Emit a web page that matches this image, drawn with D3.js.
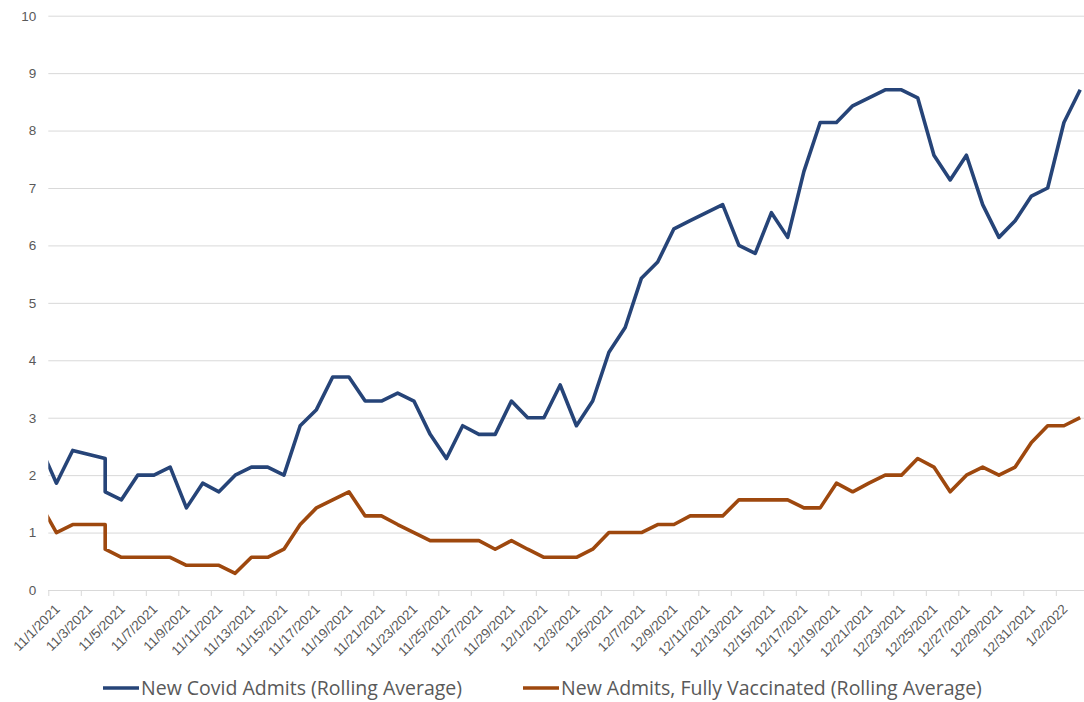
<!DOCTYPE html>
<html>
<head>
<meta charset="utf-8">
<script src="https://cdn.jsdelivr.net/npm/d3@7"></script>
<style>
  body { margin: 0; background: #ffffff; }
  svg { display: block; font-family: "Open Sans", "Noto Sans", sans-serif; }
</style>
</head>
<body>
<svg class="chart" width="1084" height="702"></svg>
<script>
// dates of the rolling averages (11/3 is missing, 11/4 is there twice)
const dates = ["10/31/2021", "11/1/2021", "11/2/2021", "11/4/2021", "11/4/2021", "11/5/2021", "11/6/2021",
  "11/7/2021", "11/8/2021", "11/9/2021", "11/10/2021", "11/11/2021", "11/12/2021", "11/13/2021",
  "11/14/2021", "11/15/2021", "11/16/2021", "11/17/2021", "11/18/2021", "11/19/2021", "11/20/2021",
  "11/21/2021", "11/22/2021", "11/23/2021", "11/24/2021", "11/25/2021", "11/26/2021", "11/27/2021",
  "11/28/2021", "11/29/2021", "11/30/2021", "12/1/2021", "12/2/2021", "12/3/2021", "12/4/2021",
  "12/5/2021", "12/6/2021", "12/7/2021", "12/8/2021", "12/9/2021", "12/10/2021", "12/11/2021",
  "12/12/2021", "12/13/2021", "12/14/2021", "12/15/2021", "12/16/2021", "12/17/2021", "12/18/2021",
  "12/19/2021", "12/20/2021", "12/21/2021", "12/22/2021", "12/23/2021", "12/24/2021", "12/25/2021",
  "12/26/2021", "12/27/2021", "12/28/2021", "12/29/2021", "12/30/2021", "12/31/2021", "1/1/2022",
  "1/2/2022", "1/3/2022"];

const covidAdmits = [2.5, 1.86, 2.43, 2.29, 1.71, 1.57, 2.0,
  2.0, 2.14, 1.43, 1.86, 1.71, 2.0, 2.14,
  2.14, 2.0, 2.86, 3.14, 3.71, 3.71, 3.29,
  3.29, 3.43, 3.29, 2.71, 2.29, 2.86, 2.71,
  2.71, 3.29, 3.0, 3.0, 3.57, 2.86, 3.29,
  4.14, 4.57, 5.43, 5.71, 6.29, 6.43, 6.57,
  6.71, 6.0, 5.86, 6.57, 6.14, 7.29, 8.14,
  8.14, 8.43, 8.57, 8.71, 8.71, 8.57, 7.57,
  7.14, 7.57, 6.71, 6.14, 6.43, 6.86, 7.0,
  8.14, 8.71];

const vaccinatedAdmits = [1.5, 1.0, 1.14, 1.14, 0.71, 0.57, 0.57,
  0.57, 0.57, 0.43, 0.43, 0.43, 0.29, 0.57,
  0.57, 0.71, 1.14, 1.43, 1.57, 1.71, 1.29,
  1.29, 1.14, 1.0, 0.86, 0.86, 0.86, 0.86,
  0.71, 0.86, 0.71, 0.57, 0.57, 0.57, 0.71,
  1.0, 1.0, 1.0, 1.14, 1.14, 1.29, 1.29,
  1.29, 1.57, 1.57, 1.57, 1.57, 1.43, 1.43,
  1.86, 1.71, 1.86, 2.0, 2.0, 2.29, 2.14,
  1.71, 2.0, 2.14, 2.0, 2.14, 2.57, 2.86,
  2.86, 3.0];

const seriesNames = ["New Covid Admits (Rolling Average)", "New Admits, Fully Vaccinated (Rolling Average)"];
const seriesColors = ["#264478", "#9e480e"];

const yTicks = [0, 1, 2, 3, 4, 5, 6, 7, 8, 9, 10];
const xTickLabels = ["11/1/2021", "11/3/2021", "11/5/2021", "11/7/2021", "11/9/2021", "11/11/2021",
  "11/13/2021", "11/15/2021", "11/17/2021", "11/19/2021", "11/21/2021", "11/23/2021", "11/25/2021",
  "11/27/2021", "11/29/2021", "12/1/2021", "12/3/2021", "12/5/2021", "12/7/2021", "12/9/2021",
  "12/11/2021", "12/13/2021", "12/15/2021", "12/17/2021", "12/19/2021", "12/21/2021", "12/23/2021",
  "12/25/2021", "12/27/2021", "12/29/2021", "12/31/2021", "1/2/2022"];

var widthCanva = 1084;
var heightCanva = 702;
var plotLeft = 48.3;      // 11/1 tick
var dayWidth = 16.25;     // px per day
var plotTop = 15.7;       // y of 10
var plotBottom = 590;     // y of 0
var gridColor = "#d9d9d9";
var textColor = "#595959";

const parseDate = d3.utcParse("%m/%d/%Y");
const fmtDate = d3.utcFormat("%-m/%-d/%Y");

// one time slot per day, the point sits in the middle of its day
const xStart = parseDate("11/1/2021");
const xEnd = parseDate("1/4/2022");
const timeScale = d3.scaleUtc()
  .domain([xStart, xEnd])
  .range([plotLeft, plotLeft + dayWidth * 64]);

const valueScale = d3.scaleLinear()
  .domain([0, 10])
  .range([plotBottom, plotTop]);

const svg = d3.select(".chart");
svg.append("rect").attr("width", widthCanva).attr("height", heightCanva).attr("fill", "#ffffff");

svg.append("defs").append("clipPath")
  .attr("id", "plotClip")
  .append("rect")
  .attr("x", plotLeft)
  .attr("y", 0)
  .attr("width", widthCanva - plotLeft)
  .attr("height", plotBottom + 5);

// horizontal grid lines + y labels
const yAxis = d3.axisLeft(valueScale)
  .tickValues(yTicks)
  .tickSize(-(widthCanva - plotLeft))
  .tickPadding(12)
  .tickFormat(d3.format("d"));

const yG = svg.append("g")
  .attr("class", "yAxis")
  .attr("transform", `translate(${plotLeft},0)`)
  .call(yAxis);
yG.select(".domain").remove();
yG.selectAll(".tick line").attr("stroke", gridColor).attr("stroke-width", 1);
yG.selectAll(".tick text")
  .attr("fill", textColor)
  .style("font-size", "13.5px");

// x axis with rotated date labels
const xAxis = d3.axisBottom(timeScale)
  .tickValues(xTickLabels.map(parseDate))
  .tickSize(6)
  .tickFormat(fmtDate);

const xG = svg.append("g")
  .attr("class", "xAxis")
  .attr("transform", `translate(0,${plotBottom})`)
  .call(xAxis);
xG.select(".domain").attr("stroke", gridColor).attr("d", `M${plotLeft},0.5H${widthCanva}`);
xG.selectAll(".tick line").attr("stroke", gridColor);
xG.selectAll(".tick text")
  .attr("fill", textColor)
  .style("font-size", "13.5px")
  .attr("text-anchor", "end")
  .attr("dy", null)
  .attr("y", 0)
  .attr("transform", "translate(12,20) rotate(-45)");

// the two lines
const lineData = [covidAdmits, vaccinatedAdmits].map((vals) =>
  vals.map((v, i) => [d3.utcHour.offset(parseDate(dates[i]), 12), v]));

const line = d3.line()
  .x((d) => timeScale(d[0]))
  .y((d) => valueScale(d[1]));

svg.append("g")
  .attr("clip-path", "url(#plotClip)")
  .selectAll("path")
  .data(lineData)
  .join("path")
  .attr("fill", "none")
  .attr("stroke", (d, i) => seriesColors[i])
  .attr("stroke-width", 3.6)
  .attr("stroke-linejoin", "round")
  .attr("d", line);

// legend
const legendX = [103, 523];
const legendY = 688;
const legend = svg.append("g").attr("class", "legend")
  .selectAll("g")
  .data(seriesNames)
  .join("g")
  .attr("transform", (d, i) => `translate(${legendX[i]},${legendY})`);

legend.append("line")
  .attr("x1", 0).attr("x2", 36)
  .attr("stroke", (d, i) => seriesColors[i])
  .attr("stroke-width", 3.6);

legend.append("text")
  .attr("x", 38)
  .attr("dy", "0.35em")
  .attr("fill", textColor)
  .style("font-size", "19.5px")
  .text((d) => d);
</script>
</body>
</html>
